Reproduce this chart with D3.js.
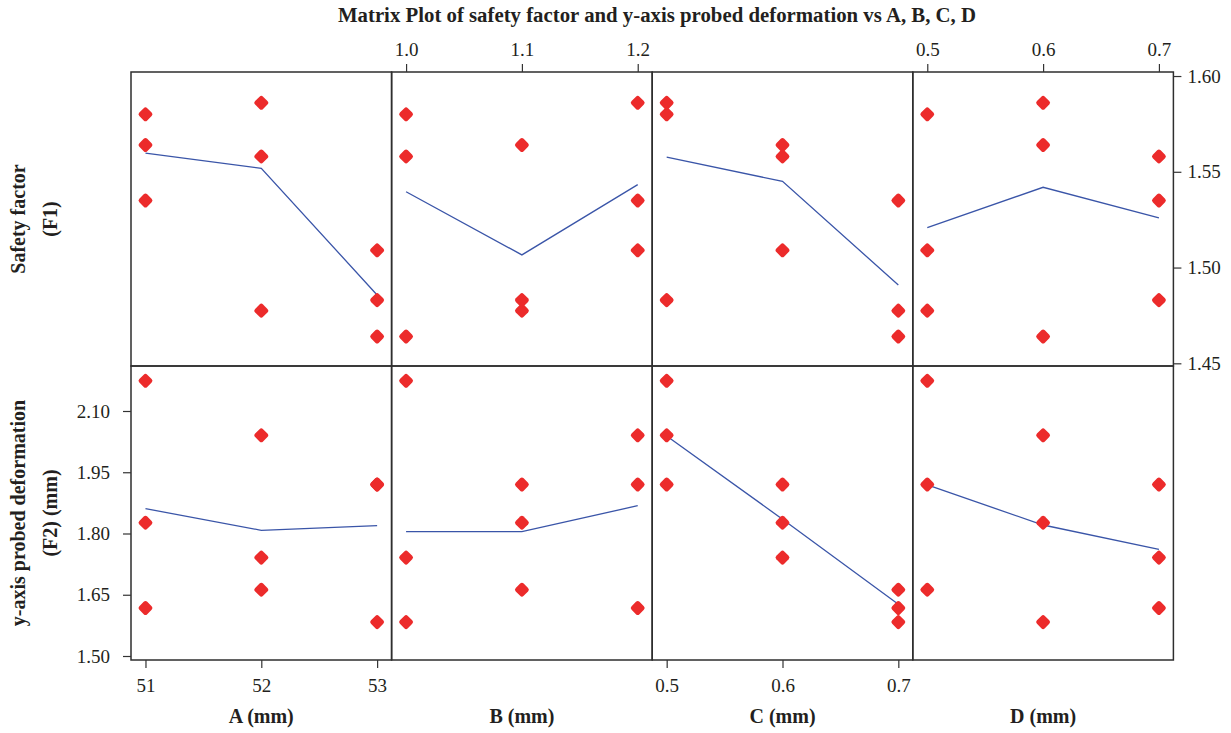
<!DOCTYPE html>
<html>
<head>
<meta charset="utf-8">
<script src="https://cdn.jsdelivr.net/npm/d3@7"></script>
<style>
    body { margin: 0; background: #fff; }
    svg { display: block; font-family: "Liberation Serif", "Times New Roman", serif; }
    .axis .tick text { font-size: 19px; fill: #231f20; }
    .axis .tick line { stroke: #333; stroke-width: 1.2; }
    .frame { fill: none; stroke: #2e2e2e; stroke-width: 1.5; }
    .axis-title { font-size: 20px; font-weight: bold; fill: #231f20; }
    .chart-title { font-size: 20.8px; font-weight: bold; fill: #231f20; }
    .fit-line { fill: none; stroke: #3a55a8; stroke-width: 1.3; }
    .dot { fill: #ec2b2b; }
</style>
</head>
<body>
<script>
const WIDTH = 1231
const HEIGHT = 733

const PLOT = {
    left: 131,
    top: 72,
    panelWidth: 260.6,
    panelHeight: 294
}

// L9 runs: factor settings and the two responses
const runA = [51, 51, 51, 52, 52, 52, 53, 53, 53]
const runB = [1.0, 1.1, 1.2, 1.0, 1.1, 1.2, 1.0, 1.1, 1.2]
const runC = [0.5, 0.6, 0.7, 0.6, 0.7, 0.5, 0.7, 0.5, 0.6]
const runD = [0.5, 0.6, 0.7, 0.7, 0.5, 0.6, 0.6, 0.7, 0.5]
const safetyF1 = [1.580, 1.564, 1.535, 1.558, 1.4775, 1.586, 1.464, 1.483, 1.509]
const deformF2 = [2.174, 1.8265, 1.6176, 1.741, 1.6624, 2.0405, 1.583, 1.920, 1.920]

// factor levels (also the tick labels)
const levelsA = [51, 52, 53]
const levelsB = [1.0, 1.1, 1.2]
const levelsC = [0.5, 0.6, 0.7]
const levelsD = [0.5, 0.6, 0.7]

// blue lines
const lineF1A = [1.5597, 1.5518, 1.4857]
const lineF1B = [1.5396, 1.5066, 1.5433]
const lineF1C = [1.5577, 1.5450, 1.4909]
const lineF1D = [1.5208, 1.5419, 1.5260]
const lineF2A = [1.8608, 1.8078, 1.8192]
const lineF2B = [1.8045, 1.8045, 1.8681]
const lineF2C = [2.0388, 1.8350, 1.6265]
const lineF2D = [1.9188, 1.8208, 1.7613]

const ticksF1 = [1.45, 1.50, 1.55, 1.60]
const ticksF2 = [1.50, 1.65, 1.80, 1.95, 2.10]

const columns = [
    { title: "A (mm)", levels: levelsA, runs: runA, lines: [lineF1A, lineF2A], side: "bottom", format: "d" },
    { title: "B (mm)", levels: levelsB, runs: runB, lines: [lineF1B, lineF2B], side: "top", format: ".1f" },
    { title: "C (mm)", levels: levelsC, runs: runC, lines: [lineF1C, lineF2C], side: "bottom", format: ".1f" },
    { title: "D (mm)", levels: levelsD, runs: runD, lines: [lineF1D, lineF2D], side: "top", format: ".1f" }
]

const rows = [
    { values: safetyF1, domain: [1.4486, 1.6021] },
    { values: deformF2, domain: [1.4902, 2.2102] }
]

const svg = d3.select("body")
    .append("svg")
    .attr("width", WIDTH)
    .attr("height", HEIGHT)

svg.append("text")
    .attr("class", "chart-title")
    .attr("x", 657)
    .attr("y", 22)
    .attr("text-anchor", "middle")
    .text("Matrix Plot of safety factor and y-axis probed deformation vs A, B, C, D")

const right = PLOT.left + PLOT.panelWidth * columns.length
const bottom = PLOT.top + PLOT.panelHeight * rows.length

const yScales = rows.map((row, j) => d3.scaleLinear()
    .domain(row.domain)
    .range([PLOT.top + (j + 1) * PLOT.panelHeight, PLOT.top + j * PLOT.panelHeight]))

const diamond = (g, x, y) => g.append("rect")
    .attr("class", "dot")
    .attr("x", -5.6)
    .attr("y", -5.6)
    .attr("width", 11.2)
    .attr("height", 11.2)
    .attr("rx", 2.5)
    .attr("transform", "translate(" + x + "," + y + ") rotate(45)")

columns.forEach((col, i) => {
    const x0 = PLOT.left + i * PLOT.panelWidth
    const lo = d3.min(col.levels)
    const hi = d3.max(col.levels)
    const pad = (hi - lo) * 0.0625

    const xScale = d3.scaleLinear()
        .domain([lo - pad, hi + pad])
        .range([x0, x0 + PLOT.panelWidth])

    rows.forEach((row, j) => {
        const yScale = yScales[j]
        const panel = svg.append("g").attr("class", "panel")

        const line = d3.line()
            .x(d => xScale(d[0]))
            .y(d => yScale(d[1]))

        panel.append("path")
            .attr("class", "fit-line")
            .attr("d", line(col.levels.map((l, k) => [l, col.lines[j][k]])))

        col.runs.forEach((r, k) => diamond(panel, xScale(r), yScale(row.values[k])))

        panel.append("rect")
            .attr("class", "frame")
            .attr("x", x0)
            .attr("y", PLOT.top + j * PLOT.panelHeight)
            .attr("width", PLOT.panelWidth)
            .attr("height", PLOT.panelHeight)
    })

    const axis = (col.side === "bottom" ? d3.axisBottom(xScale) : d3.axisTop(xScale))
        .tickValues(col.levels)
        .tickFormat(d3.format(col.format))
        .tickSize(8)
        .tickPadding(col.side === "bottom" ? 11 : 8)

    const ax = svg.append("g")
        .attr("class", "axis")
        .attr("transform", "translate(0," + (col.side === "bottom" ? bottom : PLOT.top) + ")")
        .call(axis)
    ax.select(".domain").remove()

    svg.append("text")
        .attr("class", "axis-title")
        .attr("x", x0 + PLOT.panelWidth / 2)
        .attr("y", 723)
        .attr("text-anchor", "middle")
        .text(col.title)
})

const rightAxis = svg.append("g")
    .attr("class", "axis")
    .attr("transform", "translate(" + right + ",0)")
    .call(d3.axisRight(yScales[0])
        .tickValues(ticksF1)
        .tickFormat(d3.format(".2f"))
        .tickSize(8)
        .tickPadding(6))
rightAxis.select(".domain").remove()

const leftAxis = svg.append("g")
    .attr("class", "axis")
    .attr("transform", "translate(" + PLOT.left + ",0)")
    .call(d3.axisLeft(yScales[1])
        .tickValues(ticksF2)
        .tickFormat(d3.format(".2f"))
        .tickSize(8)
        .tickPadding(13))
leftAxis.select(".domain").remove()

svg.selectAll(".axis").attr("font-family", null).attr("font-size", null)

const yTitles = [
    ["Safety factor", "(F1)"],
    ["y-axis probed deformation", "(F2) (mm)"]
]

yTitles.forEach((lines, j) => {
    const cy = PLOT.top + (j + 0.5) * PLOT.panelHeight
    lines.forEach((t, k) => {
        svg.append("text")
            .attr("class", "axis-title")
            .attr("transform", "translate(" + (25 + k * 32) + "," + cy + ") rotate(-90)")
            .attr("text-anchor", "middle")
            .text(t)
    })
})
</script>
</body>
</html>
